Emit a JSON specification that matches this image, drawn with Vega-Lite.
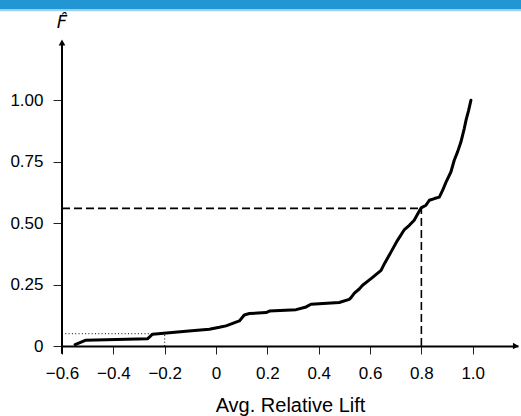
{
  "$schema": "https://vega.github.io/schema/vega-lite/v6.json",
  "width": 456,
  "height": 346,
  "autosize": {"type": "none"},
  "padding": {"left": 62, "top": 0, "right": 3, "bottom": 70},
  "background": "white",
  "config": {
    "view": {"stroke": null},
    "axis": {
      "labelFont": "Liberation Sans",
      "labelFontSize": 17,
      "labelColor": "#000",
      "titleFont": "Liberation Sans",
      "titleFontSize": 20,
      "titleFontWeight": "normal",
      "titleColor": "#000",
      "tickColor": "#222",
      "tickWidth": 1,
      "grid": false
    }
  },
  "datasets": {
    "one": [{}],
    "ecdf": [
      {"lift": -0.549, "F": 0.006},
      {"lift": -0.509, "F": 0.023},
      {"lift": -0.266, "F": 0.030},
      {"lift": -0.247, "F": 0.048},
      {"lift": -0.117, "F": 0.060},
      {"lift": -0.026, "F": 0.068},
      {"lift": 0.013, "F": 0.076},
      {"lift": 0.039, "F": 0.082},
      {"lift": 0.091, "F": 0.102},
      {"lift": 0.110, "F": 0.126},
      {"lift": 0.130, "F": 0.132},
      {"lift": 0.195, "F": 0.136},
      {"lift": 0.208, "F": 0.142},
      {"lift": 0.312, "F": 0.148},
      {"lift": 0.351, "F": 0.159},
      {"lift": 0.370, "F": 0.170},
      {"lift": 0.480, "F": 0.177},
      {"lift": 0.519, "F": 0.190},
      {"lift": 0.526, "F": 0.197},
      {"lift": 0.539, "F": 0.215},
      {"lift": 0.558, "F": 0.232},
      {"lift": 0.571, "F": 0.247},
      {"lift": 0.604, "F": 0.274},
      {"lift": 0.643, "F": 0.308},
      {"lift": 0.656, "F": 0.335},
      {"lift": 0.682, "F": 0.383},
      {"lift": 0.707, "F": 0.430},
      {"lift": 0.734, "F": 0.474},
      {"lift": 0.753, "F": 0.491},
      {"lift": 0.772, "F": 0.512},
      {"lift": 0.792, "F": 0.549},
      {"lift": 0.799, "F": 0.562},
      {"lift": 0.818, "F": 0.573},
      {"lift": 0.831, "F": 0.593},
      {"lift": 0.851, "F": 0.600},
      {"lift": 0.870, "F": 0.606},
      {"lift": 0.883, "F": 0.634},
      {"lift": 0.896, "F": 0.667},
      {"lift": 0.915, "F": 0.708},
      {"lift": 0.928, "F": 0.756},
      {"lift": 0.941, "F": 0.790},
      {"lift": 0.954, "F": 0.830},
      {"lift": 0.967, "F": 0.885},
      {"lift": 0.974, "F": 0.919},
      {"lift": 0.984, "F": 0.959},
      {"lift": 0.993, "F": 1.0}
    ]
  },
  "layer": [
    {
      "data": {"name": "one"},
      "mark": {"type": "rect", "color": "#2196d3", "clip": false},
      "encoding": {
        "x": {"datum": -0.9, "type": "quantitative"},
        "x2": {"datum": 1.3},
        "y": {"datum": 1.369, "type": "quantitative"},
        "y2": {"datum": 1.6}
      }
    },
    {
      "data": {"name": "one"},
      "mark": {"type": "rect", "color": "#a3d2ee", "clip": false},
      "encoding": {
        "x": {"datum": -0.9, "type": "quantitative"},
        "x2": {"datum": 1.3},
        "y": {"datum": 1.3625, "type": "quantitative"},
        "y2": {"datum": 1.369}
      }
    },
    {
      "data": {"name": "one"},
      "mark": {"type": "rule", "color": "#000", "strokeWidth": 1.6, "strokeDash": [8, 4]},
      "encoding": {
        "x": {"datum": -0.6, "type": "quantitative"},
        "x2": {"datum": 0.8},
        "y": {"datum": 0.56, "type": "quantitative"}
      }
    },
    {
      "data": {"name": "one"},
      "mark": {"type": "rule", "color": "#000", "strokeWidth": 1.6, "strokeDash": [8, 4]},
      "encoding": {
        "x": {"datum": 0.8, "type": "quantitative"},
        "y": {"datum": 0, "type": "quantitative"},
        "y2": {"datum": 0.56}
      }
    },
    {
      "data": {"name": "one"},
      "mark": {"type": "rule", "color": "#000", "strokeWidth": 1, "strokeDash": [1, 2.3]},
      "encoding": {
        "x": {"datum": -0.6, "type": "quantitative"},
        "x2": {"datum": -0.2},
        "y": {"datum": 0.05, "type": "quantitative"}
      }
    },
    {
      "data": {"name": "one"},
      "mark": {"type": "rule", "color": "#000", "strokeWidth": 1, "strokeDash": [1, 2.3]},
      "encoding": {
        "x": {"datum": -0.2, "type": "quantitative"},
        "y": {"datum": 0, "type": "quantitative"},
        "y2": {"datum": 0.05}
      }
    },
    {
      "data": {"name": "ecdf"},
      "mark": {"type": "line", "color": "#000", "strokeWidth": 3, "strokeJoin": "round", "strokeCap": "round"},
      "encoding": {
        "x": {
          "field": "lift", "type": "quantitative",
          "scale": {"domain": [-0.6, 1.1764], "nice": false, "zero": false},
          "axis": {
            "title": "Avg. Relative Lift",
            "values": [-0.6, -0.4, -0.2, 0, 0.2, 0.4, 0.6, 0.8, 1.0],
            "labelExpr": "datum.value == 0 ? '0' : format(datum.value, '.1f')",
            "domain": true, "domainColor": "#000", "domainWidth": 2,
            "tickSize": 8, "labelPadding": 11, "titlePadding": 14,
            "labelFlush": false, "labelOverlap": false
          }
        },
        "y": {
          "field": "F", "type": "quantitative",
          "scale": {"domain": [0, 1.408], "nice": false, "zero": false},
          "axis": {
            "title": null,
            "values": [0, 0.25, 0.5, 0.75, 1.0],
            "labelExpr": "datum.value == 0 ? '0' : format(datum.value, '.2f')",
            "domain": false, "tickSize": 9, "labelPadding": 10,
            "labelFlush": false, "labelOverlap": false
          }
        },
        "order": {"field": "lift", "type": "quantitative"}
      }
    },
    {
      "data": {"name": "one"},
      "mark": {"type": "rule", "color": "#000", "strokeWidth": 2},
      "encoding": {
        "x": {"datum": -0.6, "type": "quantitative"},
        "y": {"datum": -0.032, "type": "quantitative"},
        "y2": {"datum": 1.233}
      }
    },
    {
      "data": {"name": "one"},
      "mark": {"type": "point", "shape": "triangle-up", "filled": true, "color": "#000", "size": 45, "opacity": 1},
      "encoding": {
        "x": {"datum": -0.6, "type": "quantitative"},
        "y": {"datum": 1.235, "type": "quantitative"}
      }
    },
    {
      "data": {"name": "one"},
      "mark": {"type": "point", "shape": "triangle-right", "filled": true, "color": "#000", "size": 45, "opacity": 1, "clip": false},
      "encoding": {
        "x": {"datum": 1.168, "type": "quantitative"},
        "y": {"datum": 0, "type": "quantitative"}
      }
    },
    {
      "data": {"name": "one"},
      "mark": {"type": "text", "text": "F\u0302", "font": "DejaVu Sans", "fontStyle": "italic", "fontSize": 18, "color": "#000", "align": "center", "baseline": "alphabetic"},
      "encoding": {
        "x": {"datum": -0.6, "type": "quantitative"},
        "y": {"datum": 1.294, "type": "quantitative"}
      }
    }
  ]
}
